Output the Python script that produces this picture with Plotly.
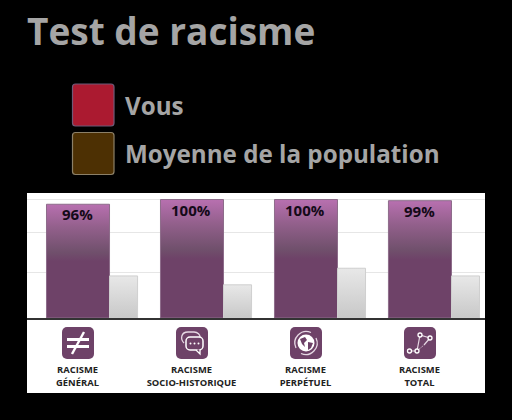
import base64
import plotly.graph_objects as go

title = "Test de racisme"
legend_labels = ["Vous", "Moyenne de la population"]
legend_colors = ["#AB1A30", "#4D3003"]
legend_borders = ["#6f5a78", "#8c8068"]
categories = ["RACISME<br>GÉNÉRAL", "RACISME<br>SOCIO-HISTORIQUE", "RACISME<br>PERPÉTUEL", "RACISME<br>TOTAL"]
positions = [0, 1, 2, 3]
vous = [96, 100, 100, 99]
moyenne = [35.5, 28, 42, 35.5]
grid_values = [38.5, 72, 100]

W, H = 512, 420
ML, MR, MT, MB = 27, 27, 193, 102
PW, PH = W - ML - MR, H - MT - MB


def px(x):
    return (x - ML) / PW


def py(y):
    return (H - MB - y) / PH


def svg_uri(inner):
    s = ('<svg xmlns="http://www.w3.org/2000/svg" viewBox="0 0 32 32" width="64" height="64">'
         '<rect width="32" height="32" rx="5" fill="#6E4268"/>' + inner + '</svg>')
    return "data:image/svg+xml;base64," + base64.b64encode(s.encode()).decode()


icons = [
    '<path d="M5 12.5H27M5 19.5H27" stroke="#fff" stroke-width="3"/><path d="M22 5L10 27" stroke="#fff" stroke-width="2.4"/>',
    '<path d="M8 16C4 12 5 5 12 5H18C22 5 24 8 24 10" fill="none" stroke="#e6d8e4" stroke-width="1.3"/>'
    '<rect x="10" y="10" width="17" height="13" rx="4" fill="#6E4268" stroke="#fff" stroke-width="1.5"/>'
    '<path d="M20 23L24 27V22" fill="#6E4268" stroke="#fff" stroke-width="1.3"/>'
    '<circle cx="14.5" cy="16.5" r="1" fill="#fff"/><circle cx="18.5" cy="16.5" r="1" fill="#fff"/><circle cx="22.5" cy="16.5" r="1" fill="#fff"/>',
    '<circle cx="16" cy="16" r="8.5" fill="#fff"/>'
    '<path d="M10 12L15 10L17 13L14 16L15 20L12 17ZM18 15L23 16L21 21L18 23Z" fill="#6E4268"/>'
    '<path d="M6 21A11.5 11.5 0 0 1 21 5.5M26 11A11.5 11.5 0 0 1 11 26.5" fill="none" stroke="#e6d8e4" stroke-width="1.3"/>',
    '<path d="M5 24H13L16 8L26 11L20 18" fill="none" stroke="#e6d8e4" stroke-width="1.2"/>'
    '<path d="M13 24L20 18" stroke="#e6d8e4" stroke-width="1" stroke-dasharray="1.5 1.5"/>'
    '<g fill="#6E4268" stroke="#fff" stroke-width="1.3"><circle cx="5.5" cy="24" r="2"/><circle cx="13" cy="24" r="2"/>'
    '<circle cx="16" cy="8" r="2"/><circle cx="26" cy="11" r="2"/></g>',
]
icon_left = [62, 176, 290, 404]

fig = go.Figure()
fig.add_bar(
    x=positions, y=vous, width=0.553, offset=-0.272, name=legend_labels[0],
    marker=dict(color="#6E4268", line=dict(color="#8d6c8a", width=1)),
    showlegend=False,
)
fig.add_bar(
    x=positions, y=moyenne, width=0.246, offset=0.281, name=legend_labels[1],
    marker=dict(color="#DDDDDD", line=dict(color="#cfcfcf", width=1)),
    showlegend=False,
)

shapes = [dict(type="rect", xref="paper", yref="paper", x0=px(27), x1=px(485), y0=py(393), y1=py(193),
               fillcolor="#fff", line_width=0, layer="below")]
annotations = [dict(text=f"{v}%", x=p, y=v, xref="x", yref="y", xanchor="center", yanchor="top", showarrow=False,
                    yshift=2, font=dict(family="Open Sans", size=15, color="#140a18", weight=700))
               for p, v in zip(positions, vous)]
for i, (label, color, border) in enumerate(zip(legend_labels, legend_colors, legend_borders)):
    top = 84 + i * 48.5
    shapes.append(dict(type="path", xref="paper", yref="paper", layer="above",
                       path=(f"M {px(75.5)} {py(top)} L {px(111)} {py(top)} Q {px(114)} {py(top)} {px(114)} {py(top+3)} "
                             f"L {px(114)} {py(top+39)} Q {px(114)} {py(top+42)} {px(111)} {py(top+42)} "
                             f"L {px(75.5)} {py(top+42)} Q {px(72.5)} {py(top+42)} {px(72.5)} {py(top+39)} "
                             f"L {px(72.5)} {py(top+3)} Q {px(72.5)} {py(top)} {px(75.5)} {py(top)} Z"),
                       fillcolor=color, line=dict(color=border, width=1.2)))
    annotations.append(dict(text=label, xref="paper", yref="paper", x=px(124.5), y=py(top + 21),
                            xanchor="left", yanchor="middle", showarrow=False, xshift=-2,
                            font=dict(family="Open Sans", size=24.2, color="#A5A5A5", weight=700)))

images = [dict(source=svg_uri(ic), xref="paper", yref="paper", x=px(l), y=py(327), sizex=32 / PW, sizey=32 / PH,
               xanchor="left", yanchor="top", sizing="stretch", layer="above")
          for ic, l in zip(icons, icon_left)]

fig.update_layout(
    width=W, height=H, margin=dict(l=ML, r=MR, t=MT, b=MB, pad=0),
    paper_bgcolor="#000", plot_bgcolor="#fff", barmode="overlay", showlegend=False,
    title=dict(text=title, x=27 / W, xanchor="left", y=1 - 32 / H, yanchor="middle", xref="container", yref="container",
               font=dict(family="Open Sans", size=37, color="#A5A5A5", weight=700)),
    xaxis=dict(range=[-0.443, 3.575], tickvals=positions, ticktext=categories, ticks="", ticklabelstandoff=42,
               tickfont=dict(family="Open Sans", size=9.4, color="#222", weight=700),
               showgrid=False, zeroline=False, showline=True, linecolor="#333", linewidth=2, fixedrange=True),
    yaxis=dict(range=[0, 105.5], tickvals=grid_values, showticklabels=False, ticks="", showgrid=True,
               gridcolor="#E6E6E6", gridwidth=1, zeroline=False, showline=False, fixedrange=True),
    shapes=shapes, annotations=annotations, images=images,
)

post = """
document.body.style.margin = '0';
document.body.style.background = '#000';
document.documentElement.style.overflow = 'hidden';
var gd = document.querySelector('.plotly-graph-div');
var svg = gd.querySelector('.main-svg');
var NS = 'http://www.w3.org/2000/svg';
var defs = svg.querySelector('defs');
function grad(id, stops) {
  var g = document.createElementNS(NS, 'linearGradient');
  g.setAttribute('id', id); g.setAttribute('x1', '0'); g.setAttribute('y1', '0');
  g.setAttribute('x2', '0'); g.setAttribute('y2', '1');
  stops.forEach(function (s) {
    var st = document.createElementNS(NS, 'stop');
    st.setAttribute('offset', s[0]); st.setAttribute('stop-color', s[1]);
    g.appendChild(st);
  });
  defs.appendChild(g);
}
grad('gradVous', [[0, '#B870B0'], [0.2, '#93608C'], [0.42, '#70506C'], [0.5, '#6E4268'], [1, '#6E4268']]);
grad('gradMoy', [[0, '#E8E8E8'], [1, '#C8C8C8']]);
var traces = gd.querySelectorAll('.barlayer .trace');
['gradVous', 'gradMoy'].forEach(function (id, i) {
  traces[i].querySelectorAll('.point path').forEach(function (p) { p.style.fill = 'url(#' + id + ')'; });
});
"""
fig.write_html("out.html", post_script=post, config={"displayModeBar": False})
